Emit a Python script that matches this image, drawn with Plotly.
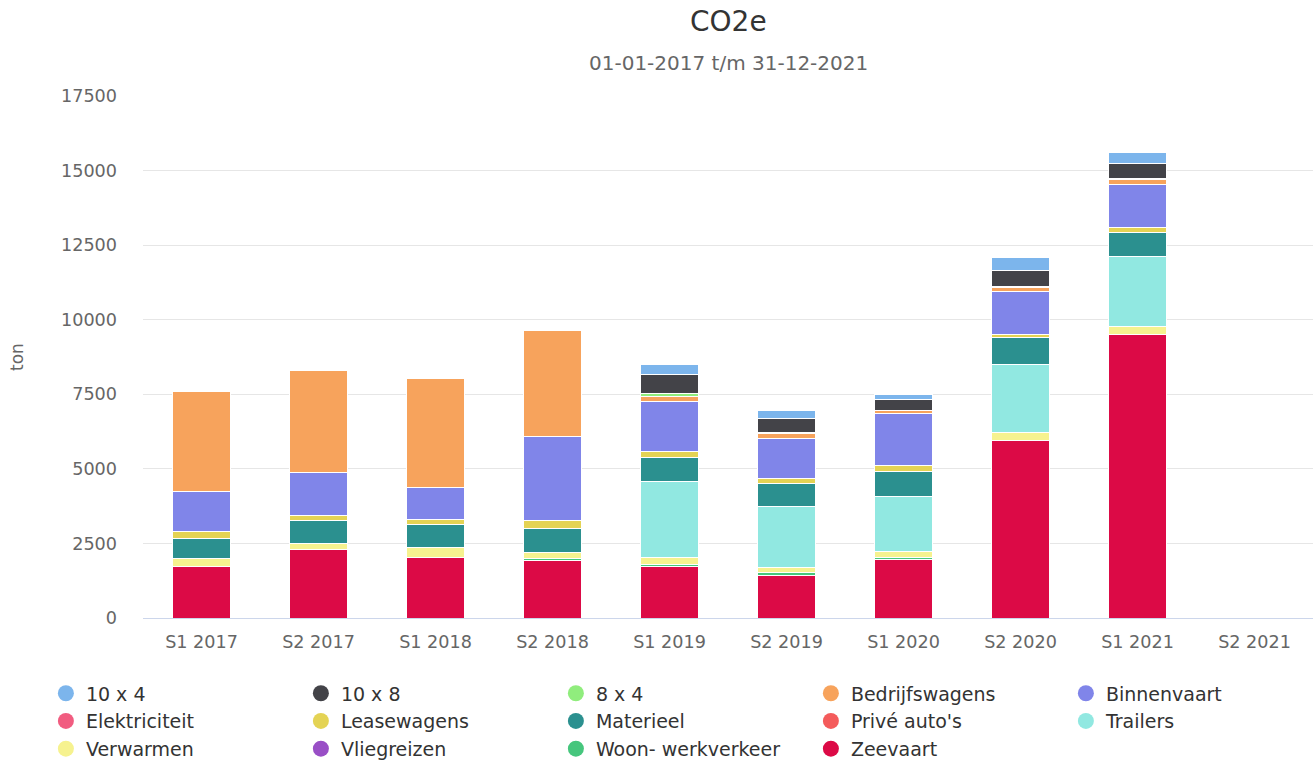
import plotly.graph_objects as go

categories = ["S1 2017", "S2 2017", "S1 2018", "S2 2018", "S1 2019",
              "S2 2019", "S1 2020", "S2 2020", "S1 2021", "S2 2021"]

# series in legend order (stacked so that the last is at the bottom)
series_names = ["10 x 4", "10 x 8", "8 x 4", "Bedrijfswagens", "Binnenvaart",
                "Elektriciteit", "Leasewagens", "Materieel", "Privé auto's", "Trailers",
                "Verwarmen", "Vliegreizen", "Woon- werkverkeer", "Zeevaart"]

v_10x4 = [0, 0, 0, 0, 335, 245, 150, 435, 355, 0]
v_10x8 = [0, 0, 0, 0, 650, 475, 400, 505, 520, 0]
v_8x4 = [0, 0, 0, 0, 100, 40, 0, 40, 40, 0]
v_bedrijfswagens = [3375, 3440, 3665, 3545, 170, 155, 80, 150, 145, 0]
v_binnenvaart = [1340, 1450, 1070, 2825, 1665, 1340, 1755, 1420, 1465, 0]
v_elektriciteit = [0, 0, 0, 0, 0, 0, 0, 0, 0, 0]
v_leasewagens = [210, 160, 155, 260, 200, 180, 180, 100, 160, 0]
v_materieel = [680, 760, 780, 825, 800, 780, 860, 905, 780, 0]
v_prive = [0, 0, 0, 0, 0, 0, 0, 0, 0, 0]
v_trailers = [0, 0, 0, 0, 2550, 2030, 1845, 2280, 2370, 0]
v_verwarmen = [280, 200, 340, 210, 230, 180, 200, 275, 255, 0]
v_vliegreizen = [0, 0, 0, 0, 0, 0, 0, 0, 0, 0]
v_woonwerk = [0, 0, 0, 60, 70, 80, 50, 0, 0, 0]
v_zeevaart = [1720, 2300, 2030, 1920, 1730, 1440, 1970, 5960, 9510, 0]

series_values = [v_10x4, v_10x8, v_8x4, v_bedrijfswagens, v_binnenvaart,
                 v_elektriciteit, v_leasewagens, v_materieel, v_prive, v_trailers,
                 v_verwarmen, v_vliegreizen, v_woonwerk, v_zeevaart]

series_colors = ["#7cb5ec", "#434348", "#90ed7d", "#f7a35c", "#8085e9",
                 "#f15c80", "#e4d354", "#2b908f", "#f45b5b", "#91e8e1",
                 "#f6f28f", "#994fc6", "#46c67d", "#dc0a46"]

title_text = "CO2e"
subtitle_text = "01-01-2017 t/m 31-12-2021"
y_title = "ton"

FONT = "DejaVu Sans, Verdana, sans-serif"

fig = go.Figure()

# bars: bottom of the stack first (reverse of legend order)
for name, vals, col in reversed(list(zip(series_names, series_values, series_colors))):
    fig.add_trace(go.Bar(
        x=categories, y=vals, name=name, marker_color=col,
        marker_line=dict(color="white", width=1),
        legendgroup=name, showlegend=False,
    ))

# legend entries with round markers, in legend order
for name, col in zip(series_names, series_colors):
    fig.add_trace(go.Scatter(
        x=[None], y=[None], mode="markers", name=name, legendgroup=name,
        marker=dict(color=col, size=17, symbol="circle"),
    ))

fig.update_layout(
    width=1313, height=775,
    barmode="stack", bargap=0.5,
    paper_bgcolor="white", plot_bgcolor="white",
    margin=dict(l=143, r=0, t=96, b=157, autoexpand=False),
    font=dict(family=FONT, color="#666666", size=17),
    xaxis=dict(
        categoryorder="array", categoryarray=categories,
        showgrid=False, showline=True, linecolor="#ccd6eb", linewidth=1,
        ticks="", tickfont=dict(size=17.6, color="#666666"),
        range=[-0.5, 9.5], ticklabelstandoff=8,
    ),
    yaxis=dict(
        range=[0, 17500], dtick=2500, tick0=0, tickformat="d",
        showgrid=True, gridcolor="#e6e6e6", gridwidth=1,
        zeroline=False, showline=False, ticks="",
        tickfont=dict(size=17.6, color="#666666"),
        ticklabelstandoff=25,
    ),
    legend=dict(
        orientation="h", x=-0.083, xanchor="left", y=-0.108, yanchor="top",
        entrywidth=210, entrywidthmode="pixels",
        font=dict(family=FONT, size=19, color="#333333"),
        itemsizing="trace", traceorder="normal",
        tracegroupgap=0,
    ),
    showlegend=True,
    annotations=[
        dict(text=title_text, xref="paper", yref="paper", x=0.5, y=(618 - 22) / 522,
             xanchor="center", yanchor="middle", showarrow=False,
             font=dict(family=FONT, size=28, color="#333333")),
        dict(text=subtitle_text, xref="paper", yref="paper", x=0.5, y=(618 - 63) / 522,
             xanchor="center", yanchor="middle", showarrow=False,
             font=dict(family=FONT, size=20, color="#666666")),
        dict(text=y_title, xref="paper", yref="paper", x=(17 - 143) / 1170, y=0.5,
             xanchor="center", yanchor="middle", showarrow=False, textangle=-90,
             font=dict(family=FONT, size=17, color="#666666")),
    ],
)

fig.write_html(
    "out.html",
    config={"displayModeBar": False},
    post_script="document.body.style.margin='0';document.body.style.overflow='hidden';",
)
